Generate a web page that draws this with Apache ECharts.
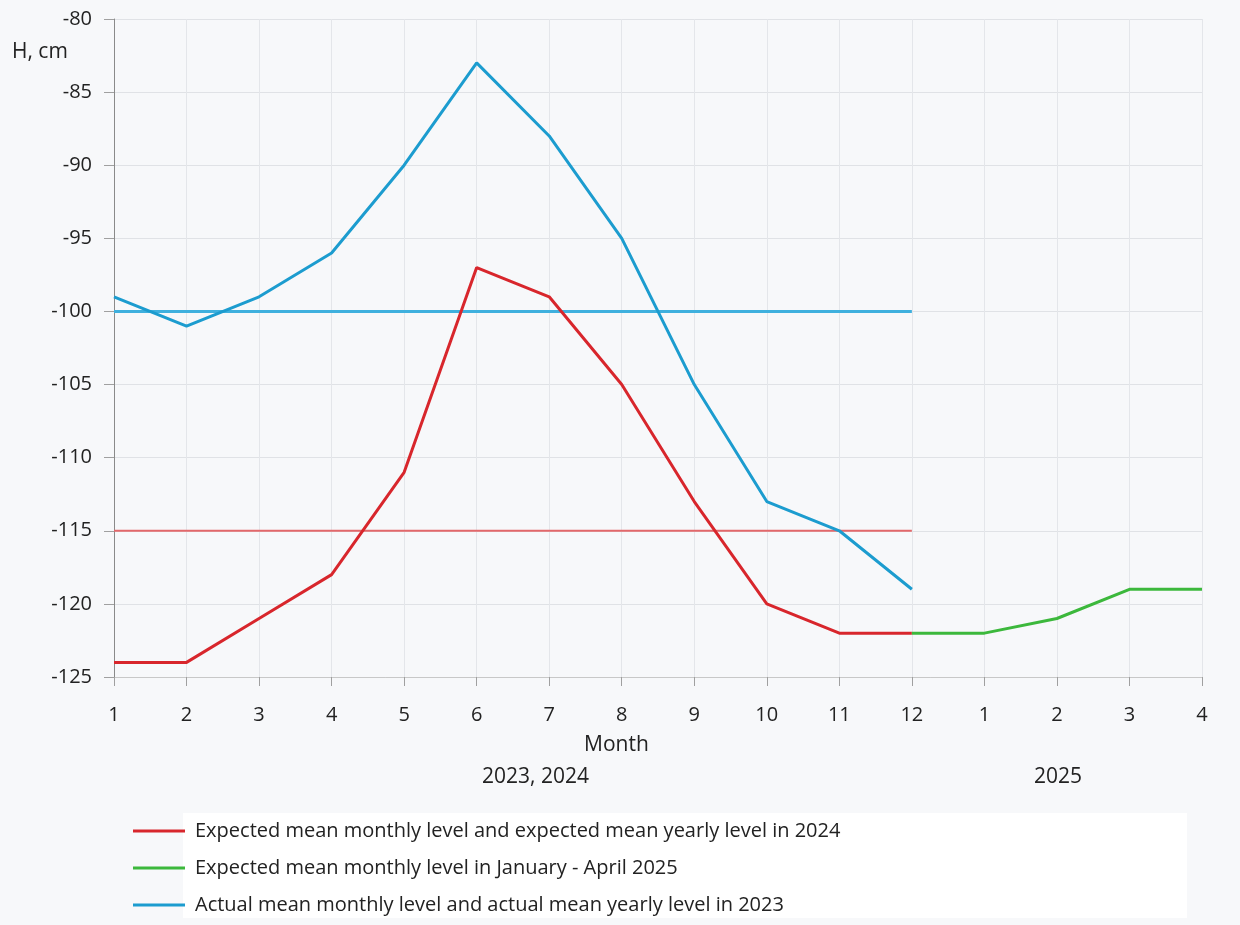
<!DOCTYPE html>
<html><head><meta charset="utf-8">
<script src="https://cdn.jsdelivr.net/npm/echarts@6/dist/echarts.min.js"></script>
<style>html,body{margin:0;padding:0;background:#f7f8fa;}#c{width:1240px;height:925px;}</style>
</head><body><div id="c"></div>
<script>
var months = ['1','2','3','4','5','6','7','8','9','10','11','12','1','2','3','4'];
var actual2023 = [-99,-101,-99,-96,-90,-83,-88,-95,-105,-113,-115,-119];
var expected2024 = [-124,-124,-121,-118,-111,-97,-99,-105,-113,-120,-122,-122];
var expected2025 = [-122,-122,-121,-119,-119]; // Dec 2024 .. Apr 2025
var mean2023 = -100;
var mean2024 = -115;
var names = ['Expected mean monthly level and expected mean yearly level in 2024',
             'Expected mean monthly level in January - April 2025',
             'Actual mean monthly level and actual mean yearly level in 2023'];
var RED='#d8262c', GREEN='#3cb83c', BLUE='#1c9ccf';
function pad(arr, start, total){var r=[];for(var i=0;i<total;i++){var j=i-start;r.push(j>=0&&j<arr.length?arr[j]:null);}return r;}
var N = months.length;
var font = '"Open Sans", sans-serif';
var chart = echarts.init(document.getElementById('c'));
chart.setOption({
  backgroundColor:'#f7f8fa',
  animation:false,
  textStyle:{fontFamily:font},
  grid:{left:114,right:38,top:19,bottom:248},
  xAxis:{type:'category',data:months,boundaryGap:false,
    axisLine:{show:true,lineStyle:{color:'#c8c8c8'}},
    axisTick:{show:true,alignWithLabel:true,length:9,lineStyle:{color:'#a0a0a0'}},
    axisLabel:{color:'#222',fontSize:20,margin:28,fontFamily:font},
    splitLine:{show:true,lineStyle:{color:'#e4e6ea'}}},
  yAxis:{type:'value',min:-125,max:-80,interval:5,
    axisLine:{show:true,lineStyle:{color:'#8a8a8a'}},
    axisTick:{show:true,length:10,lineStyle:{color:'#a0a0a0'}},
    axisLabel:{color:'#222',fontSize:20,margin:22,fontFamily:font},
    splitLine:{show:true,lineStyle:{color:'#e0e2e6'}}},
  legend:{orient:'vertical',left:128,top:816,itemWidth:52,itemHeight:3,itemGap:17,
    icon:'rect',data:names,textStyle:{fontSize:20,color:'#222',fontFamily:font,padding:[0,0,0,5]},
    backgroundColor:'transparent'},
  graphic:[
    {type:'rect',left:183,top:813,shape:{width:1004,height:105},style:{fill:'#ffffff'},z:-1},
    {type:'text',left:12,top:42,style:{text:'H, cm',font:'21px "Open Sans"',fill:'#222'}},
    {type:'text',left:584,top:735,style:{text:'Month',font:'21px "Open Sans"',fill:'#222'}},
    {type:'text',left:482,top:767,style:{text:'2023, 2024',font:'21px "Open Sans"',fill:'#222'}},
    {type:'text',left:1034,top:767,style:{text:'2025',font:'21px "Open Sans"',fill:'#222'}}
  ],
  series:[
    {name:names[0],type:'line',data:pad(expected2024,0,N),symbol:'none',lineStyle:{color:RED,width:3},itemStyle:{color:RED},z:3},
    {name:names[1],type:'line',data:pad(expected2025,11,N),symbol:'none',lineStyle:{color:GREEN,width:3},itemStyle:{color:GREEN},z:4},
    {name:names[2],type:'line',data:pad(actual2023,0,N),symbol:'none',lineStyle:{color:BLUE,width:3},itemStyle:{color:BLUE},z:3},
    {name:'mean2024',type:'line',data:pad(expected2024.map(function(){return mean2024;}),0,N),symbol:'none',lineStyle:{color:'#e2686b',width:2},z:2},
    {name:'mean2023',type:'line',data:pad(actual2023.map(function(){return mean2023;}),0,N),symbol:'none',lineStyle:{color:'#3fb0de',width:3},z:2}
  ]
});
</script></body></html>
